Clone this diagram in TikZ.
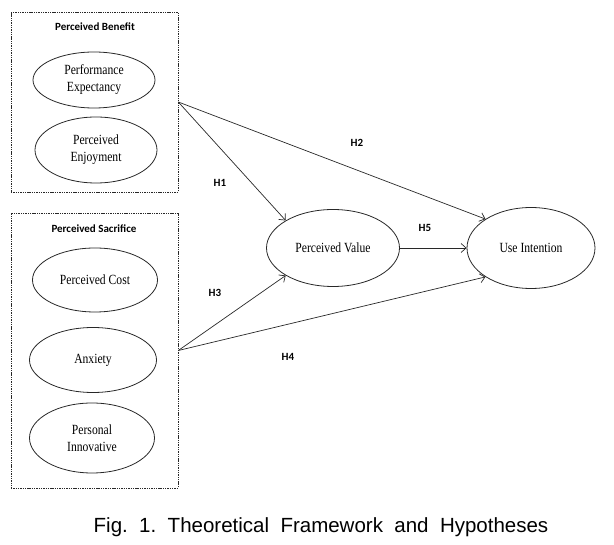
\documentclass[tikz,border=0pt]{standalone}
\usepackage{fontspec}
\usepackage{tikz}
\usetikzlibrary{arrows.meta,shapes.geometric,positioning,calc}
\newfontfamily\ellfont[FakeStretch=0.83]{Liberation Serif}
\newfontfamily\hfont{Carlito}
\newfontfamily\capfont{Liberation Sans}
\definecolor{lineclr}{RGB}{40,40,40}

\begin{document}
\begin{tikzpicture}[
  x=1pt, y=-1pt,
  grp/.style={draw=lineclr, dash pattern=on 1.4pt off 0.9pt, line width=0.6pt,
    inner sep=0pt},
  construct/.style={ellipse, draw=lineclr, line width=0.8pt, inner sep=0pt,
    font=\ellfont\fontsize{14}{17}\selectfont, align=center},
  grptitle/.style={font=\hfont\bfseries\fontsize{11}{13}\selectfont},
  hyp/.style={font=\hfont\bfseries\fontsize{11}{13}\selectfont},
  arr/.style={-{Straight Barb[length=5pt,width=9pt]}, line width=0.7pt, lineclr}
]
  \useasboundingbox (0,0) rectangle (614,545);

  % Groups
  \node[grp, minimum width=167, minimum height=180] (benbox) at (94.5,102) {};
  \node[grp, minimum width=167, minimum height=275] (sacbox) at (94.5,350.5) {};
  \node[grptitle] (bentitle) at (95,27) {Perceived Benefit};
  \node[grptitle] (sactitle) at (94,229) {Perceived Sacrifice};

  % Constructs
  \node[construct, minimum width=122, minimum height=56] (pe) at (94,80)
    {Performance\\Expectancy};
  \node[construct, minimum width=122, minimum height=66] (enj) at (96,150)
    {Perceived\\Enjoyment};
  \node[construct, minimum width=125, minimum height=64] (cost) at (95,280)
    {Perceived Cost};
  \node[construct, minimum width=127, minimum height=65] (anx) at (93,360)
    {Anxiety};
  \node[construct, minimum width=125, minimum height=70] (inno) at (92,438)
    {Personal\\Innovative};
  \node[construct, minimum width=133, minimum height=77] (pv) at (333,248)
    {Perceived Value};
  \node[construct, minimum width=128, minimum height=81] (ui) at (531,248)
    {Use Intention};

  % Paths
  \draw[arr] (benbox.east) -- (pv.north west);
  \draw[arr] (benbox.east) -- (ui.north west);
  \draw[arr] (sacbox.east) -- (pv.south west);
  \draw[arr] (sacbox.east) -- (ui.south west);
  \draw[arr] (pv.east) -- (ui.west);

  % Hypotheses
  \node[hyp] (h1) at (220,183) {H1};
  \node[hyp] (h2) at (357,143) {H2};
  \node[hyp] (h3) at (215,293) {H3};
  \node[hyp] (h4) at (288,357) {H4};
  \node[hyp] (h5) at (425,228) {H5};

  % Caption
  \node[font=\capfont\fontsize{20.5}{25}\selectfont] (cap) at (321,527)
    {Fig.\ \ 1.\ \ Theoretical\ \ Framework\ \ and\ \ Hypotheses};
\end{tikzpicture}
\end{document}
